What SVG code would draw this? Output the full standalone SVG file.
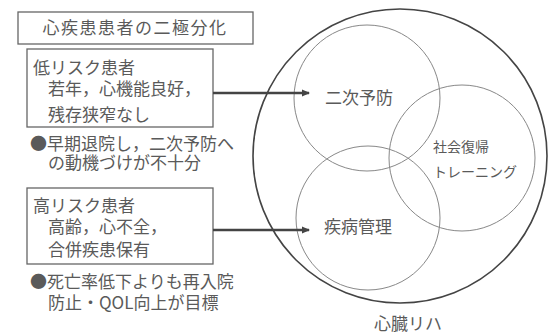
<svg xmlns="http://www.w3.org/2000/svg" width="549" height="335" viewBox="0 0 549 335">
<style>
text{font-family:"Noto Sans CJK JP","Noto Sans CJK SC",sans-serif;fill:#5a5a5a;font-size:17px}
.box{fill:#fff;stroke:#666;stroke-width:1.3}
.sc{fill:none;stroke:#888;stroke-width:1}
.big{fill:none;stroke:#444;stroke-width:1.6}
.arr{stroke:#444;stroke-width:2.6;fill:none}
.lab{font-size:14px}
</style>
<defs>
<marker id="ah" markerWidth="8" markerHeight="8" refX="7" refY="4" orient="auto" markerUnits="userSpaceOnUse" viewBox="0 0 8 8">
<path d="M0,0.5 L8,4 L0,7.5 Z" fill="#444"/>
</marker>
</defs>
<rect width="549" height="335" fill="#fff"/>
<g id="heart-rehab">
<circle class="big" cx="400" cy="156" r="147"/>
<text x="408" y="330" text-anchor="middle">心臓リハ</text>
</g>
<g id="secondary-prevention">
<circle class="sc" cx="367" cy="98" r="73"/>
<text x="359" y="104" text-anchor="middle">二次予防</text>
</g>
<g id="social-return">
<circle class="sc" cx="462" cy="158" r="73"/>
<text class="lab" x="433" y="152">社会復帰<tspan x="433" y="177">トレーニング</tspan></text>
</g>
<g id="disease-management">
<circle class="sc" cx="368" cy="218" r="72"/>
<text x="358" y="233" text-anchor="middle">疾病管理</text>
</g>
<g id="title">
<rect class="box" x="18" y="12" width="235" height="32"/>
<text x="135" y="34" text-anchor="middle" letter-spacing="1.5">心疾患患者の二極分化</text>
</g>
<g id="low-risk">
<rect class="box" x="27" y="49" width="186" height="78"/>
<text x="33" y="74">低リスク患者<tspan x="48" y="95">若年，心機能良好，</tspan><tspan x="48" y="121">残存狭窄なし</tspan></text>
<text x="30" y="150">●早期退院し，二次予防へ<tspan x="48" y="169">の動機づけが不十分</tspan></text>
</g>
<g id="high-risk">
<rect class="box" x="27" y="188" width="186" height="76"/>
<text x="33" y="212">高リスク患者<tspan x="48" y="233">高齢，心不全，</tspan><tspan x="48" y="256">合併疾患保有</tspan></text>
<text x="30" y="288">●死亡率低下よりも再入院<tspan x="48" y="309">防止・QOL向上が目標</tspan></text>
</g>
<g id="connectors">
<line class="arr" x1="213" y1="93" x2="309" y2="93" marker-end="url(#ah)"/>
<line class="arr" x1="213" y1="230" x2="309" y2="230" marker-end="url(#ah)"/>
</g>
</svg>
